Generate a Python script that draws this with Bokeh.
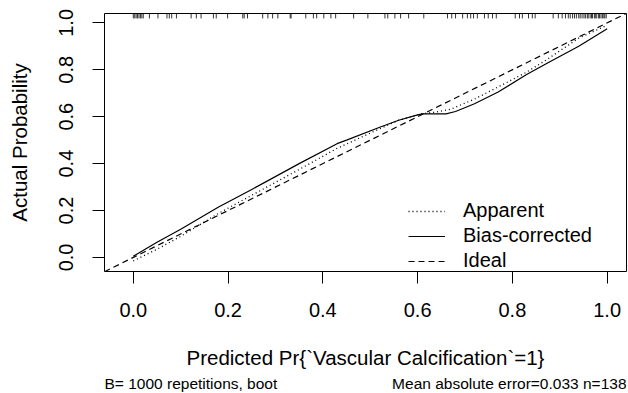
from bokeh.plotting import figure
from bokeh.layouts import column
from bokeh.models import Range1d, Legend, LegendItem, Label, FixedTicker, PrintfTickFormatter
from bokeh.embed import file_html
from bokeh.resources import INLINE

# ---- data ----
pred_apparent = [0.0, 0.05, 0.10, 0.18, 0.25, 0.35, 0.43, 0.50, 0.56, 0.61, 0.64, 0.67, 0.72, 0.77, 0.83, 0.87, 0.94, 1.0]
apparent = [-0.015, 0.035, 0.09, 0.188, 0.265, 0.375, 0.465, 0.53, 0.585, 0.613, 0.62, 0.632, 0.675, 0.727, 0.79, 0.84, 0.935, 0.99]

pred_bias = [0.0, 0.05, 0.10, 0.18, 0.25, 0.35, 0.43, 0.45, 0.52, 0.56, 0.60, 0.61, 0.66, 0.68, 0.72, 0.77, 0.83, 0.88, 0.94, 1.0]
bias_corrected = [0.005, 0.065, 0.12, 0.215, 0.29, 0.40, 0.485, 0.50, 0.555, 0.585, 0.608, 0.612, 0.612, 0.622, 0.655, 0.705, 0.78, 0.835, 0.90, 0.975]

ideal = [-0.0608, 1.0408]

rug = [0.0, 0.003, 0.006, 0.009, 0.012, 0.015, 0.018, 0.021,
       0.034, 0.052, 0.071, 0.076, 0.081, 0.091, 0.122, 0.133, 0.143,
       0.169, 0.175, 0.199, 0.231, 0.234, 0.241, 0.273, 0.284, 0.294, 0.305,
       0.331, 0.333, 0.364, 0.380, 0.387,
       0.402, 0.417, 0.427, 0.465, 0.495, 0.531, 0.537, 0.552, 0.564, 0.581, 0.613,
       0.663, 0.672, 0.680, 0.695, 0.705, 0.712, 0.718, 0.726, 0.741, 0.749, 0.758, 0.766,
       0.806, 0.815, 0.821, 0.834, 0.842, 0.848, 0.886, 0.897, 0.905, 0.912,
       0.918, 0.922, 0.927, 0.931, 0.935, 0.940, 0.943, 0.947, 0.951, 0.954, 0.958, 0.960,
       0.964, 0.967, 0.969, 0.973, 0.975, 0.978, 0.982, 0.984, 0.987, 0.990, 0.993, 0.995, 0.998]

ticks = [0.0, 0.2, 0.4, 0.6, 0.8, 1.0]

x_title = "Predicted Pr{`Vascular Calcification`=1}"
y_title = "Actual Probability"
sub_left = "B= 1000 repetitions, boot"
sub_right = "Mean absolute error=0.033 n=138"

FONT = "Liberation Sans"
FS = "20px"

# ---- main calibration plot ----
p = figure(width=628, height=374, output_backend="svg", toolbar_location=None,
           x_range=Range1d(-0.0608, 1.0408), y_range=Range1d(-0.06, 1.04),
           min_border_left=104, min_border_right=2, min_border_top=13, min_border_bottom=103)

p.background_fill_color = "white"
p.border_fill_color = "white"
p.xgrid.visible = False
p.ygrid.visible = False
p.outline_line_color = "black"
p.outline_line_width = 1
p.outline_line_alpha = 1

for ax in (p.xaxis[0], p.yaxis[0]):
    ax.ticker = FixedTicker(ticks=ticks)
    ax.formatter = PrintfTickFormatter(format="%.1f")
    ax.axis_line_color = None
    ax.major_tick_in = 0
    ax.major_tick_out = 12
    ax.major_tick_line_color = "black"
    ax.minor_tick_line_color = None
    ax.major_label_text_font = FONT
    ax.major_label_text_font_size = FS
    ax.major_label_text_color = "black"
    ax.axis_label_text_font = FONT
    ax.axis_label_text_font_size = "20.5px"
    ax.axis_label_text_font_style = "normal"
    ax.axis_label_text_color = "black"

p.xaxis.axis_label = x_title
p.xaxis.major_label_standoff = 19
p.xaxis.axis_label_standoff = 26

p.yaxis.axis_label = y_title
p.yaxis.major_label_orientation = "vertical"
p.yaxis.major_label_standoff = 19
p.yaxis.axis_label_standoff = 26

# rug of predicted values along the top edge
top = p.y_range.end
p.segment(x0=rug, y0=[top] * len(rug), x1=rug, y1=[top - 0.021] * len(rug),
          line_color="black", line_width=0.8)

r_ideal = p.line(ideal, ideal, line_color="black", line_width=1.2, line_dash="6 4")
r_app = p.line(pred_apparent, apparent, line_color="black", line_width=1.3, line_dash="1 3")
r_bias = p.line(pred_bias, bias_corrected, line_color="black", line_width=1.2)

legend = Legend(items=[LegendItem(label="Apparent", renderers=[r_app]),
                       LegendItem(label="Bias-corrected", renderers=[r_bias]),
                       LegendItem(label="Ideal", renderers=[r_ideal])],
                location=(304, -1), padding=0, margin=0, spacing=2,
                glyph_width=37, glyph_height=22, label_standoff=18,
                label_text_font=FONT, label_text_font_size=FS, label_text_color="black",
                border_line_color=None, background_fill_alpha=0)
p.add_layout(legend, "center")

# ---- subtitle strip under the plot (R's sub-title line) ----
p2 = figure(width=628, height=19, output_backend="svg", toolbar_location=None,
            x_range=Range1d(0, 1), y_range=Range1d(0, 1),
            x_axis_location=None, y_axis_location=None, min_border=0)
p2.outline_line_color = None
p2.background_fill_color = "white"
p2.border_fill_color = "white"
for g in p2.grid:
    g.visible = False
p2.add_layout(Label(x=0, y=10, x_units="screen", y_units="screen", text=sub_left,
                    text_font=FONT, text_font_size="15.5px",
                    text_baseline="middle", text_align="left", text_color="black"))
p2.add_layout(Label(x=522, y=10, x_units="screen", y_units="screen", text=sub_right,
                    text_font=FONT, text_font_size="15.5px",
                    text_baseline="middle", text_align="right", text_color="black"))

layout = column(p, p2, spacing=0)
open("out.html", "w").write(file_html(layout, INLINE))
